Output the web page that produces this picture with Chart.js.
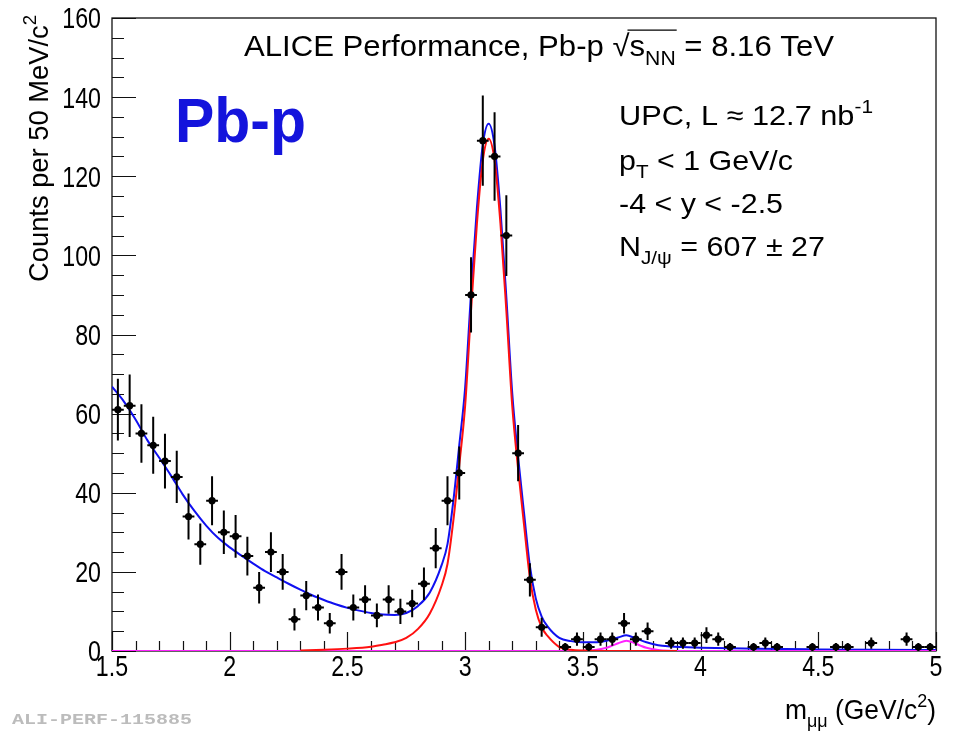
<!DOCTYPE html>
<html>
<head>
<meta charset="utf-8">
<script src="https://cdn.jsdelivr.net/npm/chart.js@4.4.1/dist/chart.umd.min.js"></script>
<style>
  html, body { margin: 0; padding: 0; background: #fff; }
  #wrap { width: 957px; height: 731px; }
</style>
</head>
<body>
<div id="wrap"><canvas id="c" width="957" height="731"></canvas></div>
<script>
// invariant-mass bins (GeV/c^2), counts and stat errors
const binCenters = [
  1.525, 1.575, 1.625, 1.675, 1.725, 1.775, 1.825, 1.875, 1.925, 1.975,
  2.025, 2.075, 2.125, 2.175, 2.225, 2.275, 2.325, 2.375, 2.425, 2.475,
  2.525, 2.575, 2.625, 2.675, 2.725, 2.775, 2.825, 2.875, 2.925, 2.975,
  3.025, 3.075, 3.125, 3.175, 3.225, 3.275, 3.325, 3.375, 3.425, 3.475,
  3.525, 3.575, 3.625, 3.675, 3.725, 3.775, 3.825, 3.875, 3.925, 3.975,
  4.025, 4.075, 4.125, 4.175, 4.225, 4.275, 4.325, 4.375, 4.425, 4.475,
  4.525, 4.575, 4.625, 4.675, 4.725, 4.775, 4.825, 4.875, 4.925, 4.975
];
const counts = [
  61, 62, 55, 52, 48, 44, 34, 27, 38, 30,
  29, 24, 16, 25, 20, 8, 14, 11, 7, 20,
  11, 13, 9, 13, 10, 12, 17, 26, 38, 45,
  90, 129, 125, 105, 50, 18, 6, null, 1, 3,
  1, 3, 3, 7, 3, 5, null, 2, 2, 2,
  4, 3, 1, null, 1, 2, 1, null, null, 1,
  null, 1, 1, null, 2, null, null, 3, 1, 1
];
const countErrors = [
  7.8, 7.9, 7.4, 7.2, 6.9, 6.6, 5.8, 5.2, 6.2, 5.5,
  5.4, 4.9, 4.0, 5.0, 4.5, 2.8, 3.7, 3.3, 2.6, 4.5,
  3.3, 3.6, 3.0, 3.6, 3.2, 3.5, 4.1, 5.1, 6.2, 6.7,
  9.5, 11.4, 11.2, 10.2, 7.1, 4.2, 2.4, null, 1.0, 1.7,
  1.0, 1.7, 1.7, 2.6, 1.7, 2.2, null, 1.4, 1.4, 1.4,
  2.0, 1.7, 1.0, null, 1.0, 1.4, 1.0, null, null, 1.0,
  null, 1.0, 1.0, null, 1.4, null, null, 1.7, 1.0, 1.0
];
const binHalfWidth = 0.025;

// total fit (blue)
const totalFitMass = [
  1.5, 1.55, 1.6, 1.65, 1.7, 1.75, 1.8, 1.85, 1.9, 1.95, 2.0, 2.05, 2.1, 2.15, 2.2,
  2.25, 2.3, 2.35, 2.4, 2.45, 2.5, 2.55, 2.6, 2.65, 2.7, 2.75, 2.8, 2.85, 2.9, 2.925,
  2.95, 2.975, 3.0, 3.025, 3.05, 3.075, 3.1, 3.125, 3.15, 3.175, 3.2, 3.225, 3.25,
  3.275, 3.3, 3.325, 3.35, 3.4, 3.45, 3.5, 3.55, 3.6, 3.65, 3.685, 3.72, 3.77, 3.82,
  3.87, 3.92, 4.0, 4.25, 4.5, 4.75, 5.0
];
const totalFitCounts = [
  66.8, 63.1, 58.5, 53.3, 48.9, 44.4, 39.6, 35.4, 31.7, 28.6, 26.2, 24.1, 22.1, 20.2, 18.6,
  17.0, 15.5, 14.1, 12.9, 11.8, 10.9, 10.2, 9.6, 9.2, 9.1, 9.6, 11.4, 14.8, 21.7, 27,
  38, 52, 66.6, 90.5, 112, 128, 133.3, 127.7, 111.5, 89.4, 65.2, 49, 35,
  21.5, 13.3, 8.7, 6.2, 3.3, 2.5, 2.2, 2.2, 2.6, 3.4, 3.95, 3.3, 2.2, 1.45,
  1.15, 1.0, 0.85, 0.55, 0.4, 0.3, 0.25
];

// J/psi signal (red)
const jpsiFitMass = [
  2.3, 2.4, 2.5, 2.6, 2.65, 2.7, 2.75, 2.8, 2.85, 2.9, 2.925, 2.95, 2.975, 3.0, 3.025,
  3.05, 3.075, 3.1, 3.125, 3.15, 3.175, 3.2, 3.225, 3.25, 3.275, 3.3, 3.325, 3.35, 3.4,
  3.45, 3.5, 3.6, 3.7, 3.8, 3.9
];
const jpsiFitCounts = [
  0.1, 0.3, 0.6, 1.1, 1.6, 2.2, 3.3, 5.6, 9.5, 16.5, 22, 33, 47, 62, 86,
  108, 124, 129.5, 124, 108, 86, 62, 46, 32, 18.5, 10.5, 6, 3.8, 1.0,
  0.3, 0.1, 0, 0, 0, 0
];

// psi(2S) signal (magenta)
const psi2sFitMass = [1.5, 3.45, 3.5, 3.55, 3.6, 3.625, 3.65, 3.685, 3.72, 3.745, 3.77, 3.82, 3.87, 3.92, 5.0];
const psi2sFitCounts = [0, 0, 0.05, 0.25, 0.8, 1.35, 1.95, 2.6, 2.0, 1.35, 0.8, 0.25, 0.05, 0, 0];

const xTicks = [1.5, 2, 2.5, 3, 3.5, 4, 4.5, 5];
const yTicks = [0, 20, 40, 60, 80, 100, 120, 140, 160];

const FONT = 'Liberation Sans';

function toPoints(xs, ys) {
  const out = [];
  xs.forEach((x, i) => { if (ys[i] !== null) out.push({ x: x, y: ys[i], i: i }); });
  return out;
}

// draws text made of runs (normal / sub / sup), squeezed to a given width
function drawRich(ctx, runs, x, y, size, opts) {
  opts = opts || {};
  const weight = opts.weight || 'normal';
  const fam = opts.family || FONT;
  const small = size * 0.68;
  ctx.save();
  const widths = runs.map(r => {
    ctx.font = `${weight} ${r.s ? small : size}px "${fam}"`;
    return ctx.measureText(r.t).width;
  });
  const total = widths.reduce((a, b) => a + b, 0);
  const sx = opts.width ? opts.width / total : (opts.sx || 1);
  ctx.translate(x, y);
  if (opts.rotate) ctx.rotate(opts.rotate);
  ctx.scale(sx, 1);
  ctx.fillStyle = opts.color || '#000';
  ctx.textBaseline = 'alphabetic';
  ctx.textAlign = 'left';
  let cx = opts.align === 'right' ? -total : opts.align === 'center' ? -total / 2 : 0;
  let overStart = null, overEnd = null;
  runs.forEach((r, k) => {
    let dy = 0;
    if (r.s === 'sub') dy = size * 0.3;
    if (r.s === 'sup') dy = -size * 0.42;
    ctx.font = `${weight} ${r.s ? small : size}px "${fam}"`;
    ctx.fillText(r.t, cx, dy);
    if (r.over) {
      if (overStart === null) overStart = cx;
      overEnd = cx + widths[k];
    }
    cx += widths[k];
  });
  if (overStart !== null) {
    ctx.strokeStyle = opts.color || '#000';
    ctx.lineWidth = 1.3;
    ctx.beginPath();
    ctx.moveTo(overStart - 2, -size * 0.86);
    ctx.lineTo(overEnd + 1, -size * 0.86);
    ctx.stroke();
  }
  ctx.restore();
}

const errorBars = {
  id: 'errorBars',
  afterDatasetsDraw(chart) {
    const ctx = chart.ctx, xs = chart.scales.x, ys = chart.scales.y;
    ctx.save();
    ctx.strokeStyle = '#000';
    ctx.lineWidth = 2;
    binCenters.forEach((m, i) => {
      if (counts[i] === null) return;
      const px = xs.getPixelForValue(m);
      const py = ys.getPixelForValue(counts[i]);
      const top = ys.getPixelForValue(counts[i] + countErrors[i]);
      const bot = ys.getPixelForValue(Math.max(0, counts[i] - countErrors[i]));
      ctx.beginPath();
      ctx.moveTo(px, top); ctx.lineTo(px, bot);
      ctx.moveTo(xs.getPixelForValue(m - binHalfWidth), py);
      ctx.lineTo(xs.getPixelForValue(m + binHalfWidth), py);
      ctx.stroke();
    });
    ctx.restore();
  }
};

const rootFrame = {
  id: 'rootFrame',
  beforeDatasetsDraw(chart) {
    const ctx = chart.ctx, a = chart.chartArea;
    const xs = chart.scales.x, ys = chart.scales.y;
    ctx.save();
    ctx.strokeStyle = '#111';
    ctx.lineWidth = 1.3;
    ctx.strokeRect(a.left, a.top, a.right - a.left, a.bottom - a.top);
    ctx.lineWidth = 1.2;
    ctx.beginPath();
    // y ticks, inward
    for (let v = 0; v <= 160; v += 5) {
      const py = Math.round(ys.getPixelForValue(v)) + 0.5;
      const len = v % 20 === 0 ? 24 : 12;
      ctx.moveTo(a.left, py); ctx.lineTo(a.left + len, py);
    }
    // x ticks, inward
    for (let k = 0; k <= 35; k++) {
      const m = 1.5 + k * 0.1;
      const px = Math.round(xs.getPixelForValue(m)) + 0.5;
      const len = k % 5 === 0 ? 19 : 10;
      ctx.moveTo(px, a.bottom); ctx.lineTo(px, a.bottom - len);
    }
    ctx.stroke();
    ctx.restore();
  },
  afterDraw(chart) {
    const ctx = chart.ctx, a = chart.chartArea;
    const xs = chart.scales.x, ys = chart.scales.y;
    const tickSize = 29, tickSx = 0.8;
    yTicks.forEach(v => {
      const py = ys.getPixelForValue(v);
      drawRich(ctx, [{ t: String(v) }], 101, py + tickSize * 0.36, tickSize, { sx: tickSx, align: 'right' });
    });
    xTicks.forEach(v => {
      const px = xs.getPixelForValue(v);
      drawRich(ctx, [{ t: String(v) }], px, 676, tickSize, { sx: tickSx, align: 'center' });
    });
    // axis titles
    drawRich(ctx, [{ t: 'Counts per 50 MeV/c' }, { t: '2', s: 'sup' }], 48, 282, 28,
      { width: 267, rotate: -Math.PI / 2 });
    drawRich(ctx, [{ t: 'm' }, { t: 'μμ', s: 'sub' }, { t: ' (GeV/c' }, { t: '2', s: 'sup' }, { t: ')' }],
      936, 719, 28, { width: 151, align: 'right' });
    // title
    drawRich(ctx, [
      { t: 'ALICE Performance, Pb-p ' }, { t: '√' }, { t: 's', over: true },
      { t: 'NN', s: 'sub', over: true }, { t: ' = 8.16 TeV' }
    ], 244, 56, 30, { width: 590 });
    // annotations
    drawRich(ctx, [{ t: 'UPC, L ≈ 12.7 nb' }, { t: '-1', s: 'sup' }], 619, 125, 28, { width: 254 });
    drawRich(ctx, [{ t: 'p' }, { t: 'T', s: 'sub' }, { t: ' < 1 GeV/c' }], 619, 170, 28, { width: 174 });
    drawRich(ctx, [{ t: '-4 < y < -2.5' }], 619, 213, 28, { width: 164 });
    drawRich(ctx, [{ t: 'N' }, { t: 'J/ψ', s: 'sub' }, { t: ' = 607 ± 27' }], 619, 256, 28, { width: 206 });
    drawRich(ctx, [{ t: 'Pb-p' }], 175, 142, 63, { width: 131, weight: 'bold', color: '#1414dc' });
    drawRich(ctx, [{ t: 'ALI-PERF-115885' }], 12, 724, 15,
      { width: 180, weight: 'bold', family: 'Liberation Mono', color: '#bcbcbc' });
  }
};

const pointData = toPoints(binCenters, counts);

new Chart(document.getElementById('c'), {
  type: 'scatter',
  data: {
    datasets: [
      {
        label: 'data',
        data: pointData,
        pointRadius: 3.6,
        pointHoverRadius: 3.6,
        pointBackgroundColor: '#000',
        pointBorderWidth: 0,
        showLine: false,
        order: 0
      },
      {
        label: 'J/psi',
        data: toPoints(jpsiFitMass, jpsiFitCounts),
        showLine: true,
        borderColor: '#ff1010',
        borderWidth: 2,
        pointRadius: 0,
        cubicInterpolationMode: 'monotone',
        order: 1
      },
      {
        label: 'psi(2S)',
        data: toPoints(psi2sFitMass, psi2sFitCounts),
        showLine: true,
        borderColor: '#ff22ff',
        borderWidth: 2,
        pointRadius: 0,
        cubicInterpolationMode: 'monotone',
        order: 2
      },
      {
        label: 'total',
        data: toPoints(totalFitMass, totalFitCounts),
        showLine: true,
        borderColor: '#1010f0',
        borderWidth: 2,
        pointRadius: 0,
        cubicInterpolationMode: 'monotone',
        order: 3
      }
    ]
  },
  options: {
    responsive: false,
    animation: false,
    devicePixelRatio: 1,
    layout: { padding: { left: 112, right: 21, top: 18, bottom: 80 } },
    plugins: { legend: { display: false }, tooltip: { enabled: false } },
    scales: {
      x: { type: 'linear', min: 1.5, max: 5, display: false },
      y: { type: 'linear', min: 0, max: 160, display: false }
    }
  },
  plugins: [rootFrame, errorBars]
});
</script>
</body>
</html>
